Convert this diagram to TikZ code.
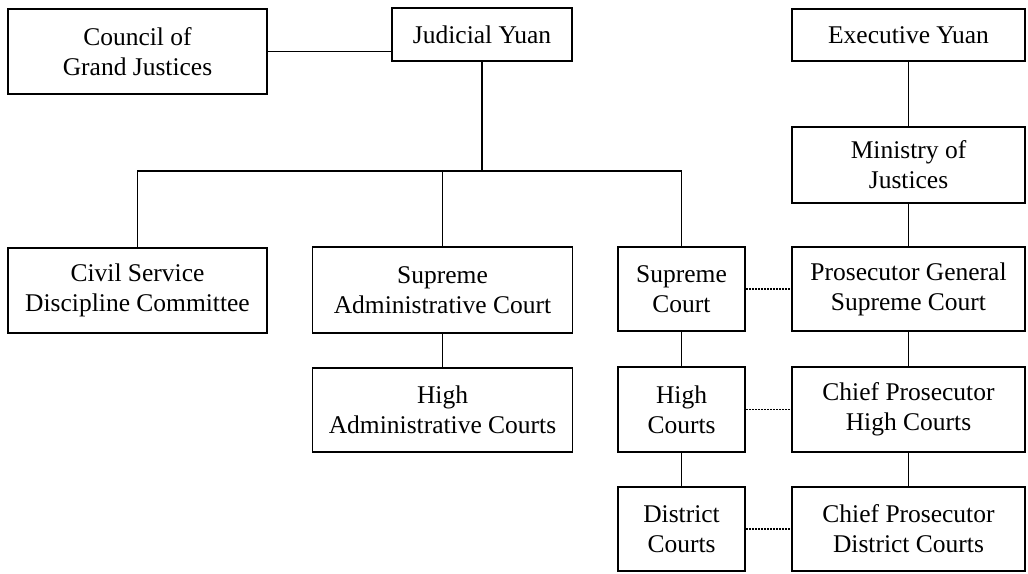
\documentclass[tikz,border=0pt]{standalone}
\usepackage{fontspec}
\setmainfont{Liberation Serif}
\begin{document}
\begin{tikzpicture}[x=1pt,y=-1pt,
  box/.style={draw, line width=1.5pt, inner sep=0pt, align=center,
    font=\fontsize{25.5}{30}\selectfont},
  conn/.style={line width=1.3pt},
  link/.style={line width=1.3pt, dash pattern=on 2pt off 1pt}]
\useasboundingbox (0,0) rectangle (1028,573);
\node[box, minimum width=259pt, minimum height=85pt] (council) at (137.5,51.5) {Council of\\Grand Justices};
\node[box, minimum width=180pt, minimum height=53pt] (judicial) at (482,34.5) {Judicial Yuan};
\node[box, minimum width=233pt, minimum height=52pt] (exec) at (908.5,35) {Executive Yuan};
\node[box, minimum width=233pt, minimum height=76pt] (ministry) at (908.5,165) {Ministry of\\Justices};
\node[box, minimum width=259pt, minimum height=85pt] (civil) at (137.5,290.5) {Civil Service\\Discipline Committee};
\node[box, minimum width=260pt, minimum height=86pt] (supadm) at (442.5,290) {Supreme\\Administrative Court};
\node[box, minimum width=127pt, minimum height=84pt] (supreme) at (681.5,289) {Supreme\\Court};
\node[box, minimum width=233pt, minimum height=84pt] (prosgen) at (908.5,289) {Prosecutor General\\Supreme Court};
\node[box, minimum width=260pt, minimum height=84pt] (highadm) at (442.5,410) {High\\Administrative Courts};
\node[box, minimum width=127pt, minimum height=85pt] (highc) at (681.5,409.5) {High\\Courts};
\node[box, minimum width=233pt, minimum height=85pt] (chiefhc) at (908.5,409.5) {Chief Prosecutor\\High Courts};
\node[box, minimum width=127pt, minimum height=84pt] (district) at (681.5,529) {District\\Courts};
\node[box, minimum width=233pt, minimum height=84pt] (chiefdc) at (908.5,529) {Chief Prosecutor\\District Courts};
\coordinate (bus) at (0,171);
\draw[conn] (council.east) -- (council.east -| judicial.west);
\draw[conn] (judicial.south) -- (judicial.south |- bus);
\draw[conn] (civil.north) -- (civil.north |- bus) -- (supreme.north |- bus) -- (supreme.north);
\draw[conn] (supadm.north) -- (supadm.north |- bus);
\draw[conn] (supadm.south) -- (highadm.north);
\draw[conn] (supreme.south) -- (highc.north);
\draw[conn] (highc.south) -- (district.north);
\draw[conn] (exec.south) -- (ministry.north);
\draw[conn] (ministry.south) -- (prosgen.north);
\draw[conn] (prosgen.south) -- (chiefhc.north);
\draw[conn] (chiefhc.south) -- (chiefdc.north);
\draw[link] (supreme.east) -- (prosgen.west);
\draw[link] (highc.east) -- (chiefhc.west);
\draw[link] (district.east) -- (chiefdc.west);
\end{tikzpicture}
\end{document}
